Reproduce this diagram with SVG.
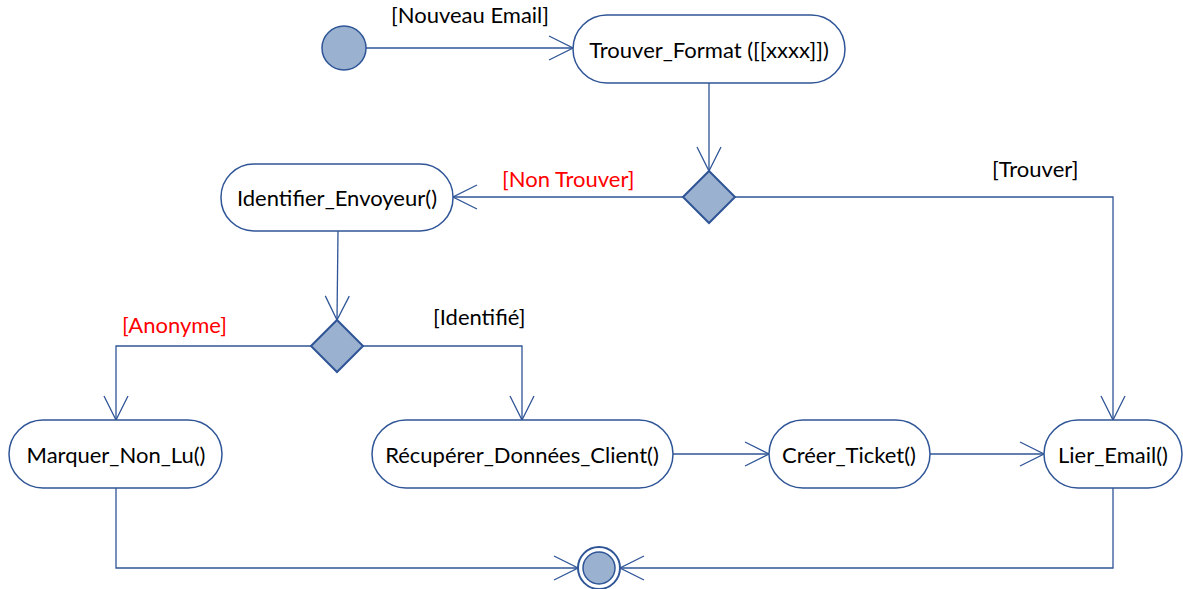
<svg xmlns="http://www.w3.org/2000/svg" width="1183" height="589" viewBox="0 0 1183 589">
<defs>
<style>
.node rect{fill:#fff;stroke:#2f5597;stroke-width:1.5}
.lbl{font-family:Lato,"Liberation Sans",sans-serif;font-size:22px;fill:#000;text-anchor:middle;dominant-baseline:central}
.grd{font-family:Lato,"Liberation Sans",sans-serif;font-size:22px;fill:#000}
.red{fill:#ff0000}
.edge{fill:none;stroke:#2f5597;stroke-width:1.3}
.dec{fill:#9ab1cf;stroke:#2f5597;stroke-width:2}
.pt{fill:#9ab1cf;stroke:#2f5597;stroke-width:1.5}
</style>
<marker id="arr" markerUnits="userSpaceOnUse" markerWidth="26" markerHeight="26" refX="24" refY="12" orient="auto" viewBox="-1 -1 26 26">
<path d="M0,0 L24,12 L0,24" fill="none" stroke="#2f5597" stroke-width="1.3"/>
</marker>
</defs>
<rect width="1183" height="589" fill="#fff"/>
<g id="connectors">
<path class="edge" d="M366,48 H573" marker-end="url(#arr)"/>
<path class="edge" d="M709,83 V171" marker-end="url(#arr)"/>
<path class="edge" d="M683,197 H453" marker-end="url(#arr)"/>
<path class="edge" d="M735,197 H1113 V420" marker-end="url(#arr)"/>
<path class="edge" d="M338,231 L337,320" marker-end="url(#arr)"/>
<path class="edge" d="M311,346 H116 V420" marker-end="url(#arr)"/>
<path class="edge" d="M363,346 H522 V420" marker-end="url(#arr)"/>
<path class="edge" d="M673,454 H769" marker-end="url(#arr)"/>
<path class="edge" d="M930,454 H1044" marker-end="url(#arr)"/>
<path class="edge" d="M116,488 V568 H578" marker-end="url(#arr)"/>
<path class="edge" d="M1113,488 V568 H620" marker-end="url(#arr)"/>
<text class="grd" x="391" y="23">[Nouveau Email]</text>
<text class="grd red" x="502" y="187">[Non Trouver]</text>
<text class="grd" x="992" y="177">[Trouver]</text>
<text class="grd red" x="122" y="333">[Anonyme]</text>
<text class="grd" x="433" y="325">[Identifié]</text>
</g>
<g id="start"><circle class="pt" cx="344" cy="48" r="22"/></g>
<g id="trouver_format" class="node"><rect x="573" y="15" width="272" height="68" rx="34"/><text class="lbl" x="709" y="49">Trouver_Format ([[xxxx]])</text></g>
<g id="decision1"><polygon class="dec" points="683,197 709,171 735,197 709,223"/></g>
<g id="identifier" class="node"><rect x="221" y="164" width="232" height="67" rx="33"/><text class="lbl" x="337" y="197">Identifier_Envoyeur()</text></g>
<g id="decision2"><polygon class="dec" points="311,346 337,320 363,346 337,372"/></g>
<g id="marquer" class="node"><rect x="9" y="420" width="213" height="68" rx="34"/><text class="lbl" x="116" y="454">Marquer_Non_Lu()</text></g>
<g id="recuperer" class="node"><rect x="372" y="420" width="301" height="68" rx="34"/><text class="lbl" x="522" y="454">Récupérer_Données_Client()</text></g>
<g id="creer" class="node"><rect x="769" y="420" width="161" height="68" rx="34"/><text class="lbl" x="849" y="454">Créer_Ticket()</text></g>
<g id="lier" class="node"><rect x="1044" y="420" width="138" height="68" rx="34"/><text class="lbl" x="1113" y="454">Lier_Email()</text></g>
<g id="end"><circle cx="599" cy="568" r="21" fill="#fff" stroke="#2f5597" stroke-width="2"/><circle class="pt" cx="599" cy="568" r="16"/></g>
</svg>
